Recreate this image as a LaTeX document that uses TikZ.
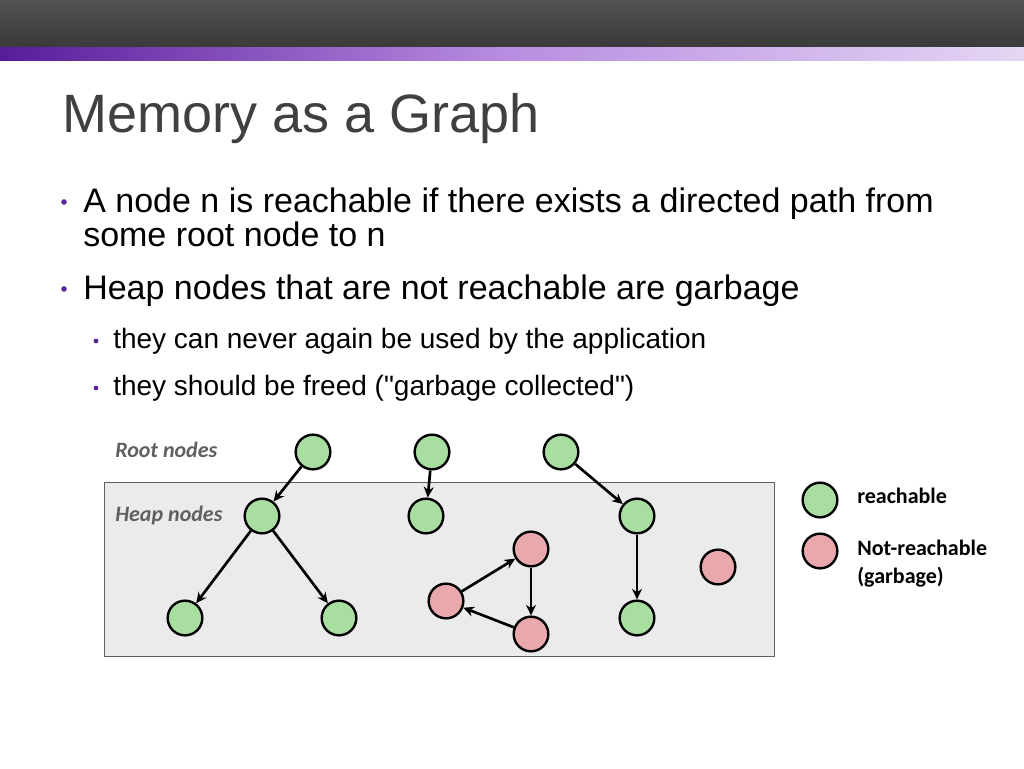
\documentclass[tikz,border=0pt]{standalone}
\usepackage{fontspec}
\setmainfont{Liberation Sans}[Ligatures=TeXOff]
\newfontfamily\calfont{Carlito}
\usetikzlibrary{arrows.meta}
\definecolor{gfill}{RGB}{168,222,160}
\definecolor{pfill}{RGB}{233,168,171}
\definecolor{heapbg}{RGB}{235,235,235}
\definecolor{titlegray}{RGB}{64,64,64}
\definecolor{bulletpurple}{RGB}{88,40,150}
\definecolor{labelgray}{RGB}{96,96,96}
\tikzset{
  gnode/.style={circle, draw=black, line width=1.8pt, fill=gfill, minimum size=26pt, inner sep=0pt},
  pnode/.style={circle, draw=black, line width=1.8pt, fill=pfill, minimum size=26pt, inner sep=0pt},
  edge/.style={line width=2pt, -{Stealth[length=8pt,width=7.5pt]}},
  bodytext/.style={anchor=base west, inner sep=0pt, font=\fontsize{25.5pt}{30pt}\selectfont},
  subtext/.style={anchor=base west, inner sep=0pt, font=\fontsize{21pt}{25pt}\selectfont},
  lbl/.style={anchor=base west, inner sep=0pt, text=labelgray, font=\calfont\bfseries\itshape\fontsize{16.5pt}{20pt}\selectfont},
  leg/.style={anchor=base west, inner sep=0pt, font=\calfont\bfseries\fontsize{16.5pt}{20pt}\selectfont},
  bdot/.style={circle, fill=bulletpurple, inner sep=0pt, minimum size=#1}
}
\begin{document}
\begin{tikzpicture}[x=0.75pt,y=-0.75pt]
\useasboundingbox (0,0) rectangle (1024,768);
\fill[white] (0,0) rectangle (1024,768);
% top bar
\shade[top color={rgb,255:red,82;green,82;blue,82}, bottom color={rgb,255:red,58;green,58;blue,58}] (0,0) rectangle (1024,47);
\shade[left color={rgb,255:red,88;green,28;blue,155}, right color={rgb,255:red,228;green,214;blue,244}, middle color={rgb,255:red,185;green,142;blue,226}] (0,47) rectangle (1024,60);
% title
\node[anchor=base west, inner sep=0pt, text=titlegray, font=\fontsize{40.5pt}{48pt}\selectfont] (title) at (62,132) {Memory as a Graph};
% bullets
\node[bdot=4.2pt] (b1) at (64,202) {};
\node[bodytext] (t1) at (83,212) {A node n is reachable if there exists a directed path from};
\node[bodytext] (t1b) at (83,246) {some root node to n};
\node[bdot=4.2pt] (b2) at (64,289) {};
\node[bodytext] (t2) at (83,299) {Heap nodes that are not reachable are garbage};
\node[bdot=3.6pt] (b3) at (96,341) {};
\node[subtext] (t3) at (113,348) {they can never again be used by the application};
\node[bdot=3.6pt] (b4) at (96,388) {};
\node[subtext] (t4) at (113,395) {they should be freed ("garbage collected")};
% heap box
\draw[fill=heapbg, draw={rgb,255:red,96;green,96;blue,96}, line width=0.75pt] (104,482) rectangle (774,656);
\node[lbl] (rootlbl) at (115,457) {Root nodes};
\node[lbl] (heaplbl) at (115,521) {Heap nodes};
% nodes
\node[gnode] (r1) at (313,452) {};
\node[gnode] (r2) at (432,452) {};
\node[gnode] (r3) at (561,452) {};
\node[gnode] (h1) at (262,516) {};
\node[gnode] (h2) at (426,516) {};
\node[gnode] (h3) at (637,516) {};
\node[gnode] (l1) at (185,618) {};
\node[gnode] (l2) at (339,618) {};
\node[gnode] (l3) at (637,618) {};
\node[pnode] (p1) at (531,549) {};
\node[pnode] (p2) at (446,601) {};
\node[pnode] (p3) at (531,634) {};
\node[pnode] (p4) at (718,567) {};
% edges
\draw[edge] (r1) -- (h1);
\draw[edge] (h1) -- (l1);
\draw[edge] (h1) -- (l2);
\draw[edge] (r2) -- (h2);
\draw[edge] (r3) -- (h3);
\draw[edge] (h3) -- (l3);
\draw[edge] (p2) -- (p1);
\draw[edge] (p1) -- (p3);
\draw[edge] (p3) -- (p2);
% legend
\node[gnode] (lg) at (820,500) {};
\node[pnode] (lp) at (820,551) {};
\node[leg] (lgt) at (857,503) {reachable};
\node[leg] (lpt) at (857,555) {Not-reachable};
\node[leg] (lpt2) at (857,583) {(garbage)};
\end{tikzpicture}
\end{document}
